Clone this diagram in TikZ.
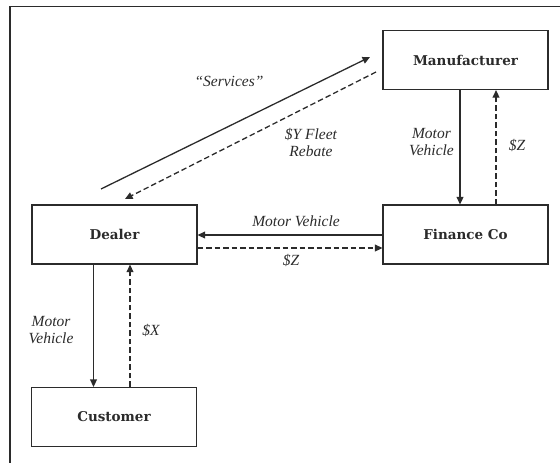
\documentclass[tikz,border=0pt]{standalone}
\usepackage{fontspec}
\setmainfont{DejaVu Serif}
\newfontfamily\labelfont[Ligatures=TeX]{Liberation Serif}
\usetikzlibrary{arrows.meta}
\definecolor{ink}{HTML}{2B2B2B}
\tikzset{
  entity/.style={draw=ink, line width=1.3pt, minimum width=165pt, minimum height=59pt,
    inner sep=0pt, font=\fontsize{13.5}{16}\selectfont\bfseries, text=ink},
  flow/.style={draw=ink, line width=1.3pt, -{Triangle[length=7.5pt,width=7pt]}},
  money/.style={flow, dash pattern=on 5.5pt off 3pt},
  lbl/.style={font=\labelfont\fontsize{15.5}{17}\selectfont\itshape, text=ink, inner sep=0pt, align=center}
}
\begin{document}
\begin{tikzpicture}[x=1pt, y=-1pt]
  \useasboundingbox (0,0) rectangle (560,463);
  % outer frame (top and left edges)
  \draw[ink, line width=1.5pt] (560,6.5) -- (10,6.5) -- (10,463);

  % parties
  \node[entity] (man) at (465.5,60) {Manufacturer};
  \node[entity] (dea) at (114.5,234.5) {Dealer};
  \node[entity] (fin) at (465.5,234.5) {Finance Co};
  \node[entity] (cus) at (114,417) {Customer};

  % manufacturer <-> finance company
  \draw[flow]  ([xshift=-5.5pt]man.south) -- ([xshift=-5.5pt]fin.north);
  \draw[money] ([xshift=30.5pt]fin.north) -- ([xshift=30.5pt]man.south);
  \node[lbl, anchor=east] (mv1) at (454,142) {Motor\\Vehicle};
  \node[lbl] (z1) at (517,145) {\$Z};

  % finance company <-> dealer
  \draw[flow]  ([yshift=-0.5pt]fin.west) -- ([yshift=-0.5pt]dea.east);
  \draw[money] ([yshift=-13.5pt]dea.east) -- ([yshift=-13.5pt]fin.west);
  \node[lbl] (mv2) at (296,221) {Motor Vehicle};
  \node[lbl] (z2) at (291,260) {\$Z};

  % dealer <-> customer
  \draw[flow]  ([xshift=-21pt]dea.south) -- ([xshift=-20.5pt]cus.north);
  \draw[money] ([xshift=16pt]cus.north) -- ([xshift=15.5pt]dea.south);
  \node[lbl] (mv3) at (51,330) {Motor\\Vehicle};
  \node[lbl] (x1) at (151,330) {\$X};

  % dealer <-> manufacturer
  \coordinate (s0) at (101,189);
  \coordinate (s1) at (370,57);
  \coordinate (r0) at (376,72);
  \coordinate (r1) at (125,199);
  \draw[flow]  (s0) -- (s1);
  \draw[money] (r0) -- (r1);
  \node[lbl] (srv) at (229,81) {“Services”};
  \node[lbl] (reb) at (311,142) {\$Y Fleet\\Rebate};
\end{tikzpicture}
\end{document}
